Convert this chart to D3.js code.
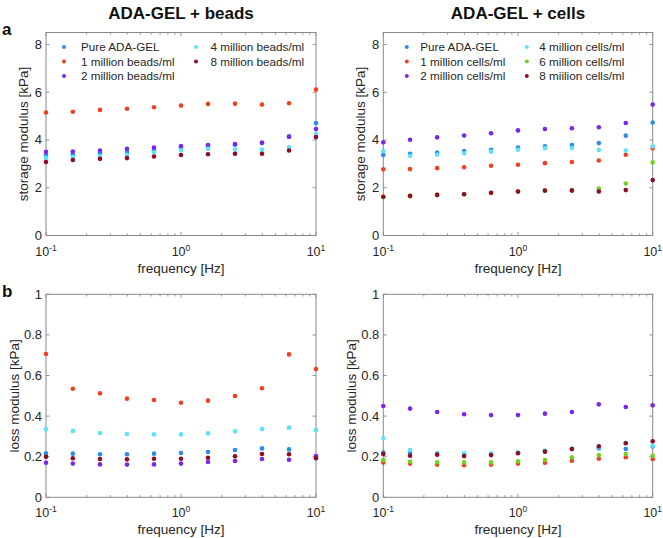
<!DOCTYPE html>
<html><head><meta charset="utf-8">
<script src="https://cdn.jsdelivr.net/npm/d3@7"></script>
<style>body{margin:0;background:#fff}svg{font-family:"Liberation Sans",Arial,sans-serif}</style>
</head><body><svg id="c" width="663" height="538"></svg>
<script>
// ---- data ----
const freq = [0.1, 0.158, 0.251, 0.398, 0.631, 1, 1.585, 2.512, 3.981, 6.310, 10];
const titles = ["ADA-GEL + beads", "ADA-GEL + cells"];
const panelLetters = ["a", "b"];
const beadLabels = ["Pure ADA-GEL", "1 million beads/ml", "2 million beads/ml", "4 million beads/ml", "8 million beads/ml"];
const cellLabels = ["Pure ADA-GEL", "1 million cells/ml", "2 million cells/ml", "4 million cells/ml", "6 million cells/ml", "8 miilion cells/ml"];
const beadColors = ["#2a8cf0", "#f0401e", "#7a26ee", "#5ae4fb", "#8f0c22"];
const cellColors = ["#2a8cf0", "#f0401e", "#7a26ee", "#5ae4fb", "#72d21c", "#8f0c22"];

// storage modulus, beads
const sBeadPure = [3.35, 3.40, 3.44, 3.50, 3.57, 3.69, 3.75, 3.80, 3.87, 4.14, 4.71];
const sBead1M   = [5.15, 5.18, 5.26, 5.31, 5.37, 5.44, 5.51, 5.52, 5.48, 5.54, 6.11];
const sBead2M   = [3.50, 3.52, 3.56, 3.63, 3.68, 3.75, 3.79, 3.83, 3.89, 4.14, 4.46];
const sBead4M   = [3.25, 3.29, 3.33, 3.38, 3.48, 3.57, 3.63, 3.60, 3.59, 3.69, 4.25];
const sBead8M   = [3.08, 3.16, 3.21, 3.24, 3.31, 3.37, 3.40, 3.42, 3.42, 3.56, 4.12];
// storage modulus, cells
const sCellPure = [3.37, 3.42, 3.47, 3.54, 3.59, 3.68, 3.73, 3.79, 3.87, 4.18, 4.73];
const sCell1M   = [2.77, 2.78, 2.82, 2.86, 2.92, 2.96, 3.03, 3.08, 3.14, 3.38, 3.65];
const sCell2M   = [3.90, 4.01, 4.11, 4.19, 4.28, 4.40, 4.46, 4.49, 4.53, 4.71, 5.48];
const sCell4M   = [3.54, 3.34, 3.38, 3.44, 3.51, 3.59, 3.66, 3.66, 3.58, 3.56, 3.73];
const sCell6M   = [1.60, 1.64, 1.70, 1.73, 1.78, 1.84, 1.88, 1.90, 1.97, 2.18, 3.06];
const sCell8M   = [1.62, 1.66, 1.70, 1.73, 1.79, 1.84, 1.88, 1.88, 1.84, 1.90, 2.32];
// loss modulus, beads
const lBeadPure = [0.217, 0.215, 0.212, 0.212, 0.215, 0.218, 0.223, 0.233, 0.241, 0.236, 0.200];
const lBead1M   = [0.706, 0.535, 0.512, 0.486, 0.479, 0.466, 0.476, 0.499, 0.537, 0.704, 0.632];
const lBead2M   = [0.170, 0.166, 0.162, 0.161, 0.162, 0.166, 0.174, 0.179, 0.189, 0.185, 0.203];
const lBead4M   = [0.335, 0.327, 0.317, 0.312, 0.310, 0.310, 0.315, 0.325, 0.336, 0.343, 0.332];
const lBead8M   = [0.200, 0.192, 0.189, 0.187, 0.190, 0.190, 0.195, 0.202, 0.213, 0.212, 0.192];
// loss modulus, cells
const lCellPure = [0.220, 0.218, 0.215, 0.212, 0.213, 0.218, 0.228, 0.238, 0.241, 0.238, 0.250];
const lCell1M   = [0.172, 0.166, 0.161, 0.158, 0.161, 0.166, 0.170, 0.180, 0.190, 0.197, 0.189];
const lCell2M   = [0.450, 0.437, 0.420, 0.409, 0.405, 0.405, 0.412, 0.420, 0.458, 0.445, 0.453];
const lCell4M   = [0.291, 0.233, 0.218, 0.217, 0.217, 0.222, 0.230, 0.240, 0.246, 0.269, 0.254];
const lCell6M   = [0.184, 0.175, 0.172, 0.172, 0.172, 0.177, 0.184, 0.197, 0.208, 0.213, 0.205];
const lCell8M   = [0.213, 0.205, 0.210, 0.203, 0.208, 0.217, 0.225, 0.238, 0.251, 0.266, 0.276];

const yStorageTicks = [0, 2, 4, 6, 8];
const yLossTicks = [0, 0.2, 0.4, 0.6, 0.8, 1];
const yStorageLabels = ["0", "2", "4", "6", "8"];
const yLossLabels = ["0", "0.2", "0.4", "0.6", "0.8", "1"];
const xTickExp = ["-1", "0", "1"];

// ---- drawing ----
const svg = d3.select("#c");
const axisCol = "#8a8a8a", textCol = "#262626";

function panel(opts) {
  const {x0, x1, y0, y1, ymax, series, colors, yticks, ylabels, ylabel, ylabelOff, legend, legendPos} = opts;
  const x = d3.scaleLog().domain([0.1, 10]).range([x0, x1]);
  const y = d3.scaleLinear().domain([0, ymax]).range([y1, y0]);
  const g = svg.append("g");
  const majors = [0.1, 1, 10];
  const minors = [];
  [0.1, 1].forEach(d => { for (let k = 2; k <= 9; k++) minors.push(d * k); });
  [[y1, -1], [y0, 1]].forEach(([yy, dir]) => {
    g.selectAll(null).data(minors).enter().append("line")
      .attr("x1", d => x(d)).attr("x2", d => x(d))
      .attr("y1", yy).attr("y2", yy + dir * 2.2)
      .attr("stroke", axisCol).attr("stroke-width", 0.9);
    g.selectAll(null).data(majors).enter().append("line")
      .attr("x1", d => x(d)).attr("x2", d => x(d))
      .attr("y1", yy).attr("y2", yy + dir * 3.5)
      .attr("stroke", axisCol).attr("stroke-width", 0.9);
  });
  [[x0, 1], [x1, -1]].forEach(([xx, dir]) => {
    g.selectAll(null).data(yticks).enter().append("line")
      .attr("y1", d => y(d)).attr("y2", d => y(d))
      .attr("x1", xx).attr("x2", xx + dir * 3.5)
      .attr("stroke", axisCol).attr("stroke-width", 0.9);
  });
  g.append("rect").attr("x", x0).attr("y", y0).attr("width", x1 - x0).attr("height", y1 - y0)
    .attr("fill", "none").attr("stroke", axisCol).attr("stroke-width", 1);
  g.selectAll(null).data(yticks).enter().append("text")
    .attr("x", x0 - 4).attr("y", d => y(d) + 4.5)
    .attr("text-anchor", "end").attr("font-size", 13).attr("fill", textCol)
    .text((d, i) => ylabels[i]);
  majors.forEach((d, i) => {
    const t = g.append("text").attr("x", x(d)).attr("y", y1 + 20)
      .attr("text-anchor", "middle").attr("fill", textCol);
    t.append("tspan").attr("font-size", 12.5).text("10");
    t.append("tspan").attr("font-size", 8.5).attr("dy", -5).text(xTickExp[i]);
  });
  g.append("text").attr("x", (x0 + x1) / 2).attr("y", y1 + 37)
    .attr("text-anchor", "middle").attr("font-size", 13.5).attr("fill", textCol).text("frequency [Hz]");
  g.append("text").attr("transform", `translate(${x0 - ylabelOff},${(y0 + y1) / 2}) rotate(-90)`)
    .attr("text-anchor", "middle").attr("font-size", 13.5).attr("fill", textCol).text(ylabel);
  series.forEach((s, si) => {
    g.selectAll(null).data(s).enter().append("circle")
      .attr("cx", (d, i) => x(freq[i])).attr("cy", d => y(d)).attr("r", 2.3)
      .attr("fill", colors[si]);
  });
  if (legend) {
    const lp = legendPos;
    legend.forEach((lab, i) => {
      const col = i < 3 ? 0 : 1, row = i < 3 ? i : i - 3;
      const mx = x0 + (col ? lp.m2 : lp.m1), tx = x0 + (col ? lp.t2 : lp.t1);
      const yy = y0 + 14.5 + row * 14.5;
      g.append("circle").attr("cx", mx).attr("cy", yy).attr("r", 2).attr("fill", colors[i]);
      g.append("text").attr("x", tx).attr("y", yy + 4.3).attr("font-size", 11.7).attr("fill", textCol).text(lab);
    });
  }
}

const colL = {x0: 46, x1: 316}, colR = {x0: 383.3, x1: 652.7};
const rowTop = {y0: 32.5, y1: 235.5}, rowBot = {y0: 294.3, y1: 497.3};

panel({...colL, ...rowTop, ymax: 8.5, series: [sBeadPure, sBead1M, sBead2M, sBead4M, sBead8M], colors: beadColors,
  yticks: yStorageTicks, ylabels: yStorageLabels, ylabel: "storage modulus [kPa]", ylabelOff: 18, legend: beadLabels,
  legendPos: {m1: 18, t1: 35, m2: 150, t2: 164.5}});
panel({...colR, ...rowTop, ymax: 8.5, series: [sCellPure, sCell1M, sCell2M, sCell4M, sCell6M, sCell8M], colors: cellColors,
  yticks: yStorageTicks, ylabels: yStorageLabels, ylabel: "storage modulus [kPa]", ylabelOff: 18, legend: cellLabels,
  legendPos: {m1: 23.5, t1: 37, m2: 143.5, t2: 156}});
panel({...colL, ...rowBot, ymax: 1, series: [lBeadPure, lBead1M, lBead2M, lBead4M, lBead8M], colors: beadColors,
  yticks: yLossTicks, ylabels: yLossLabels, ylabel: "loss modulus [kPa]", ylabelOff: 27});
panel({...colR, ...rowBot, ymax: 1, series: [lCellPure, lCell1M, lCell2M, lCell4M, lCell6M, lCell8M], colors: cellColors,
  yticks: yLossTicks, ylabels: yLossLabels, ylabel: "loss modulus [kPa]", ylabelOff: 27});

[181, 518].forEach((cx, i) => {
  svg.append("text").attr("x", cx).attr("y", 19).attr("text-anchor", "middle")
    .attr("font-size", 17).attr("font-weight", "bold").attr("fill", "#111").text(titles[i]);
});
[35, 297].forEach((yy, i) => {
  svg.append("text").attr("x", 2).attr("y", yy).attr("font-size", 17)
    .attr("font-weight", "bold").attr("fill", "#111").text(panelLetters[i]);
});
</script></body></html>
